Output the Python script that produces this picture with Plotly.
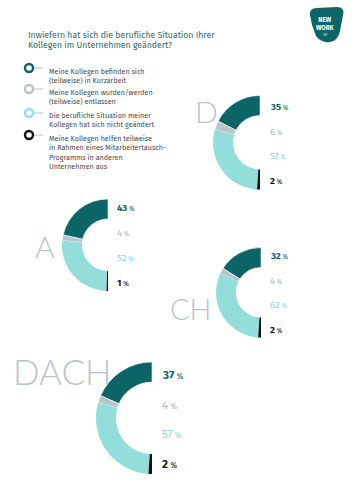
import plotly.graph_objects as go

W, H = 353, 500

# ---- data ----
regions = ["D", "A", "CH", "DACH"]
kurzarbeit = [35, 43, 32, 37]
entlassen = [6, 4, 4, 4]
unveraendert = [57, 52, 62, 57]
austausch = [2, 1, 2, 2]
legend_labels = [
    "Meine Kollegen befinden sich<br>(teilweise) in Kurzarbeit",
    "Meine Kollegen wurden/werden<br>(teilweise) entlassen",
    "Die berufliche Situation meiner<br>Kollegen hat sich nicht geändert",
    "Meine Kollegen helfen teilweise<br>in Rahmen eines Mitarbeitertausch-<br>Programms in anderen<br>Unternehmen aus",
]
title_lines = ["Inwiefern hat sich die berufliche Situation Ihrer",
               "Kollegen im Unternehmen geändert?"]

# ---- styles / layout ----
colors = ["#0b6466", "#b7c4cc", "#93dedb", "#111111"]
label_colors = ["#0b6466", "#aab8c0", "#86d8d5", "#111111"]
label_bold = [True, False, False, True]
letter_color = "#b9c5cd"
FONT = "Fira Sans, Noto Sans, Open Sans, sans-serif"

# per-region geometry (pixels): donut centre, radius, label x/ys, letter pos, sizes
geo = {
    "D":    dict(cx=260, cy=142.5, r=47, lx=268, ly=[107, 132, 156, 181], tx=206, ty=111, ts=30, fs=9.5),
    "A":    dict(cx=108, cy=245, r=46, lx=115, ly=[208, 233, 258, 283], tx=45, ty=246, ts=30, fs=9.5),
    "CH":   dict(cx=261, cy=292.5, r=45, lx=268, ly=[256, 281, 305, 330], tx=191, ty=308, ts=29, fs=9.5),
    "DACH": dict(cx=152, cy=418, r=56, lx=160, ly=[375, 405, 434, 464], tx=63, ty=371, ts=35, fs=11.5),
}

def px(x):
    return x / W

def py(y):
    return 1 - y / H

fig = go.Figure()
annotations = []
shapes = []

for i, reg in enumerate(regions):
    g = geo[reg]
    vals = [kurzarbeit[i], entlassen[i], unveraendert[i], austausch[i]]
    total = sum(vals)
    # counterclockwise pies place the first slice clockwise of `rotation`;
    # shift so the first slice ends exactly at 12 o'clock (left half-donut)
    rot = -180.0 * vals[0] / total
    fig.add_trace(go.Pie(
        values=vals + [total],
        sort=False,
        direction="counterclockwise",
        rotation=rot,
        hole=1 - 20 / g["r"],
        marker=dict(colors=colors + ["rgba(0,0,0,0)"],
                    line=dict(color="white", width=[0.6, 0.6, 0, 0, 0])),
        textinfo="none",
        hoverinfo="skip",
        showlegend=False,
        domain=dict(x=[px(g["cx"] - g["r"]), px(g["cx"] + g["r"])],
                    y=[py(g["cy"] + g["r"]), py(g["cy"] - g["r"])]),
    ))
    for k, v in enumerate(vals):
        num = f"<b>{v}</b>" if label_bold[k] else f"{v}"
        pct = f"<span style='font-size:{g['fs']*0.72:.1f}px'> %</span>"
        annotations.append(dict(
            x=px(g["lx"]), y=py(g["ly"][k]), xref="paper", yref="paper",
            xanchor="left", yanchor="middle", showarrow=False,
            text=num + pct,
            font=dict(family=FONT, size=g["fs"], color=label_colors[k]),
        ))
    annotations.append(dict(
        x=px(g["tx"]), y=py(g["ty"]), xref="paper", yref="paper",
        xanchor="center", yanchor="middle", showarrow=False,
        text=reg,
        font=dict(family="Lato, Roboto, sans-serif", size=g["ts"], color=letter_color, weight=300),
    ))

# title
for j, line in enumerate(title_lines):
    annotations.append(dict(
        x=px(26), y=py(35.5 + 9.5 * j), xref="paper", yref="paper",
        xanchor="left", yanchor="middle", showarrow=False, text=line,
        font=dict(family=FONT, size=8.7, color="#1f6b6b"),
    ))

# legend
leg_y = [68, 89, 113, 135]
for k, lab in enumerate(legend_labels):
    cy = leg_y[k]
    shapes.append(dict(type="circle", xref="paper", yref="paper",
                       x0=px(25), x1=px(33), y0=py(cy + 4), y1=py(cy - 4),
                       line=dict(color=colors[k], width=2.4), fillcolor="white"))
    shapes.append(dict(type="line", xref="paper", yref="paper",
                       x0=px(34), x1=px(43), y0=py(cy), y1=py(cy),
                       line=dict(color="#9aa4a8", width=0.7)))
    annotations.append(dict(
        x=px(47), y=py(cy - 3.5), xref="paper", yref="paper",
        xanchor="left", yanchor="top", showarrow=False, text=lab, align="left",
        font=dict(family=FONT, size=7.2, color="#4a4a4a"),
    ))

# logo
pts = [(310, 15), (309, 8), (317, 8), (337, 7), (345, 7), (343, 15), (340, 31),
       (338, 41), (330, 42), (321, 43), (316, 36), (312, 25)]
path = "M{:.4f},{:.4f} Q{:.4f},{:.4f} {:.4f},{:.4f} L{:.4f},{:.4f} Q{:.4f},{:.4f} {:.4f},{:.4f} L{:.4f},{:.4f} Q{:.4f},{:.4f} {:.4f},{:.4f} Q{:.4f},{:.4f} {:.4f},{:.4f} L{:.4f},{:.4f} Z".format(
    *[c for p in pts for c in (px(p[0]), py(p[1]))])
shapes.append(dict(type="path", xref="paper", yref="paper", path=path,
                   fillcolor="#0e6567", line=dict(width=0)))
annotations.append(dict(x=px(325), y=py(24), xref="paper", yref="paper",
                        xanchor="center", yanchor="middle", showarrow=False,
                        text="<b>NEW</b><br><b>WORK</b>", align="center",
                        font=dict(family=FONT, size=6.3, color="white")))
annotations.append(dict(x=px(325), y=py(34), xref="paper", yref="paper",
                        xanchor="center", yanchor="middle", showarrow=False, text="SE",
                        font=dict(family=FONT, size=4.2, color="#cfe3e3")))

fig.update_layout(
    width=W, height=H,
    margin=dict(l=0, r=0, t=0, b=0),
    paper_bgcolor="white", plot_bgcolor="white",
    annotations=annotations, shapes=shapes,
    showlegend=False,
)
fig.write_html("out.html", config={"displayModeBar": False})
